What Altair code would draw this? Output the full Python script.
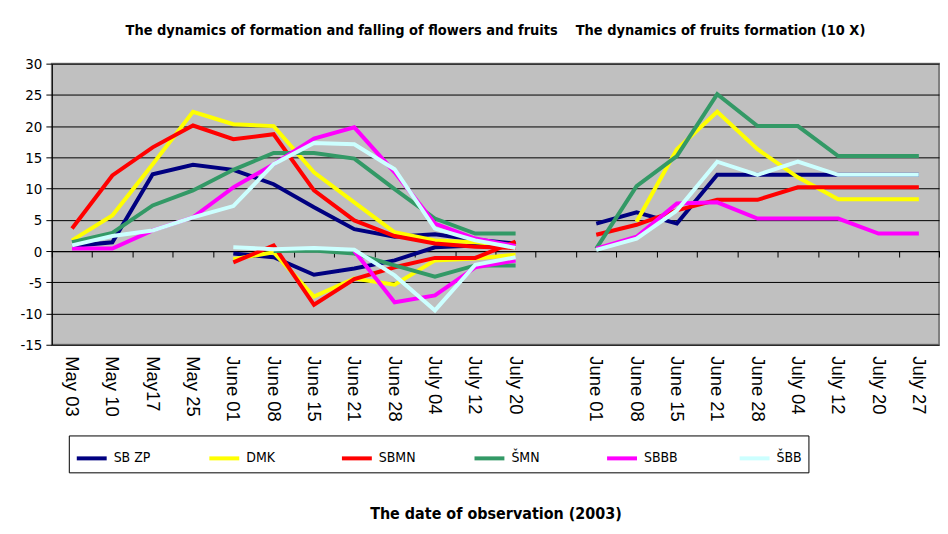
import altair as alt
import pandas as pd

series = ["SB ZP", "DMK", "SBMN", "ŠMN", "SBBB", "ŠBB"]
colors = ["#000080", "#FFFF00", "#FF0000", "#339966", "#FF00FF", "#CCFFFF"]

dates_flowers = ["May 03", "May 10", "May17", "May 25", "June 01", "June 08",
                 "June 15", "June 21", "June 28", "July 04", "July 12", "July 20"]
dates_fruits = ["June 01", "June 08", "June 15", "June 21", "June 28",
                "July 04", "July 12", "July 20", "July 27"]

# formation of flowers and fruits (May 03 .. July 20)
formation = {
    "SB ZP": [0.8, 1.4, 12.3, 13.8, 13.0, 10.7, 7.0, 3.5, 2.3, 2.7, 1.8, 1.2],
    "DMK":   [1.7, 5.7, 13.9, 22.3, 20.3, 20.0, 12.6, 7.8, 3.0, 1.7, 1.4, 0.9],
    "SBMN":  [3.6, 12.1, 16.6, 20.1, 17.9, 18.7, 9.7, 4.9, 2.4, 1.2, 0.7, 0.5],
    "ŠMN":   [1.4, 2.9, 7.3, 9.7, 13.0, 15.7, 15.7, 14.8, 9.9, 5.2, 2.8, 2.8],
    "SBBB":  [0.4, 0.4, 3.3, 5.4, 10.2, 13.9, 18.0, 19.8, 12.6, 4.4, 2.0, 0.8],
    "ŠBB":   [0.9, 2.4, 3.3, 5.4, 7.2, 13.9, 17.3, 17.1, 13.1, 3.6, 1.7, 0.5],
}
# falling of flowers and fruits (June 01 .. July 20)
falling_dates = dates_flowers[4:]
falling = {
    "SB ZP": [-0.4, -1.0, -3.8, -2.8, -1.5, 0.6, 0.9, 0.8],
    "DMK":   [-1.3, -0.2, -7.3, -4.4, -5.4, -1.5, -1.2, -0.6],
    "SBMN":  [-1.8, 0.9, -8.6, -4.5, -2.6, -1.1, -1.1, 1.5],
    "ŠMN":   [None, 0.0, 0.1, -0.4, -2.3, -4.1, -2.3, -2.3],
    "SBBB":  [None, None, None, 0.0, -8.2, -7.1, -2.6, -1.5],
    "ŠBB":   [0.6, 0.3, 0.5, 0.2, -3.9, -9.5, -2.2, -1.0],
}
# fruits formation, 10 X (June 01 .. July 27)
fruits = {
    "SB ZP": [4.4, 6.2, 4.4, 12.2, 12.2, 12.2, 12.2, 12.2, 12.2],
    "DMK":   [None, 4.7, 16.3, 22.3, 16.3, 11.8, 8.3, 8.3, 8.3],
    "SBMN":  [2.6, 4.2, 6.5, 8.2, 8.2, 10.2, 10.2, 10.2, 10.2],
    "ŠMN":   [0.4, 10.4, 15.2, 25.1, 20.0, 20.0, 15.2, 15.2, 15.2],
    "SBBB":  [0.4, 2.3, 7.6, 7.8, 5.2, 5.2, 5.2, 2.8, 2.8],
    "ŠBB":   [0.2, 2.0, 6.5, 14.3, 12.2, 14.3, 12.2, 12.2, 12.2],
}

domain = ["A|" + d for d in dates_flowers] + ["gap|"] + ["B|" + d for d in dates_fruits]

rows = []
for s in series:
    for part, dates, prefix, vals in [
        ("formation", dates_flowers, "A|", formation[s]),
        ("falling", falling_dates, "A|", falling[s]),
        ("fruits", dates_fruits, "B|", fruits[s]),
    ]:
        for i, (d, v) in enumerate(zip(dates, vals)):
            if v is None:
                continue
            rows.append({"series": s, "grp": s + "-" + part, "key": prefix + d,
                         "value": v, "idx": i})
df = pd.DataFrame(rows)

NARROW = "DejaVu Sans Condensed, Liberation Sans, sans-serif"

xscale = alt.Scale(type="band", domain=domain, paddingInner=0, paddingOuter=0)
yenc = alt.Y("value:Q", scale=alt.Scale(domain=[-15, 30], nice=False, zero=False),
             axis=alt.Axis(values=list(range(-15, 31, 5)), title=None, grid=True,
                           labelExpr="toString(datum.value)",
                           gridColor="black", gridWidth=1, domainColor="black",
                           tickColor="black", tickSize=6, labelPadding=4,
                           labelFont=NARROW, labelFontSize=15, labelColor="black"))

lines = alt.Chart(df).mark_line(strokeWidth=4, strokeJoin="miter").encode(
    x=alt.X("key:N", scale=xscale,
            axis=alt.Axis(orient="bottom", offset=-94, labels=False, title=None,
                          domain=True, domainColor="black", domainWidth=1.2,
                          ticks=True, tickColor="black", tickSize=6,
                          tickBand="extent", grid=False)),
    y=yenc,
    color=alt.Color("series:N", scale=alt.Scale(domain=series, range=colors),
                    legend=alt.Legend(title=None, orient="none", legendX=17, legendY=373,
                                      direction="horizontal", columns=6,
                                      symbolType="stroke", symbolSize=900,
                                      symbolStrokeWidth=4, labelFont=NARROW,
                                      labelFontSize=14, labelColor="black",
                                      labelOffset=5, columnPadding=51,
                                      gridAlign="all", padding=6,
                                      strokeColor="black", fillColor="white")),
    detail="grp:N",
    order="idx:Q",
)

labels = alt.Chart(df).mark_point(opacity=0).encode(
    x=alt.X("key:N", scale=xscale,
            axis=alt.Axis(orient="bottom", labelExpr="split(datum.value, '|')[1]",
                          labelAngle=90, labelPadding=11, labelFontSize=18.5,
                          labelFont="Liberation Sans", labelColor="black",
                          domain=False, ticks=False, grid=False,
                          title="The date of observation (2003)", titleFont=NARROW,
                          titleFontSize=16, titleFontWeight="bold", titleColor="black",
                          titlePadding=84)),
    y=yenc,
)

chart = alt.layer(lines, labels).resolve_axis(x="independent").properties(
    width=890, height=282,
    padding={"left": 11, "top": 14, "right": 0, "bottom": 0},
    title=alt.TitleParams(
        text="The dynamics of formation and falling of flowers and fruits\u00a0\u00a0\u00a0\u00a0The dynamics of fruits formation (10 X)",
        font=NARROW, fontSize=14.5, fontWeight="bold", color="black",
        anchor="middle", offset=18),
).configure_view(fill="#C0C0C0", stroke="#808080", strokeWidth=2)

chart.save("out.html", embed_options={"renderer": "svg", "actions": False})
